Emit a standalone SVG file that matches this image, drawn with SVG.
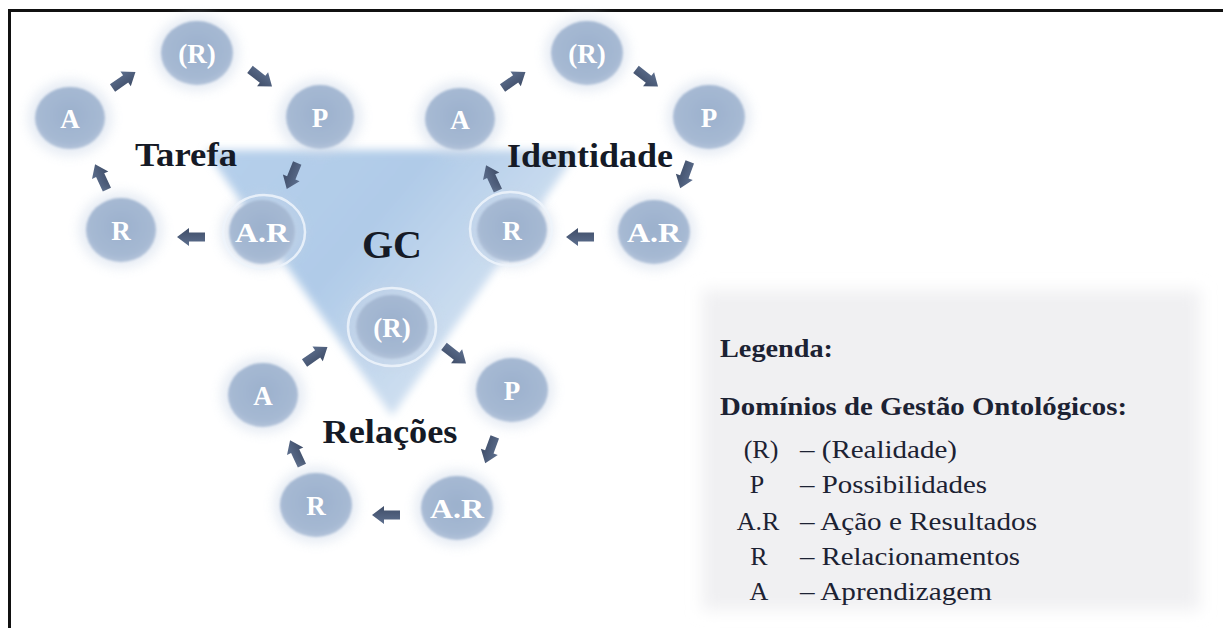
<svg xmlns="http://www.w3.org/2000/svg" xmlns:xlink="http://www.w3.org/1999/xlink" width="1223" height="628" viewBox="0 0 1223 628">
  <defs>
    <style>
      .node-fill { fill: url(#orb); filter: url(#soft); }
      .halo { fill: #c7d4e6; opacity: 0.45; filter: url(#haze); }
      .ring { fill: none; stroke: #eef4fb; stroke-width: 2.5; opacity: 0.85; }
      .node-label { font-family: "Liberation Serif", "DejaVu Serif", serif; font-weight: bold; font-size: 27px; fill: #ffffff; text-anchor: middle; }
      .domain { font-family: "Liberation Serif", "DejaVu Serif", serif; font-weight: bold; font-size: 33px; fill: #151a26; text-anchor: middle; }
      .core { font-family: "Liberation Serif", "DejaVu Serif", serif; font-weight: bold; font-size: 40px; fill: #151a26; text-anchor: middle; }
      .lg-head { font-family: "Liberation Serif", "DejaVu Serif", serif; font-weight: bold; font-size: 26px; fill: #1c2233; }
      .lg-sym { font-family: "Liberation Serif", "DejaVu Serif", serif; font-size: 26px; fill: #1c2233; text-anchor: middle; }
      .lg-txt { font-family: "Liberation Serif", "DejaVu Serif", serif; font-size: 26px; fill: #1c2233; }
      .arrow { fill: url(#arrowShade); }
    </style>
    <radialGradient id="orb" cx="0.5" cy="0.45" r="0.6">
      <stop offset="0" stop-color="#9cb1cd"/>
      <stop offset="0.75" stop-color="#a6b9d3"/>
      <stop offset="1" stop-color="#b9c8dd"/>
    </radialGradient>
    <linearGradient id="arrowShade" x1="0" y1="0" x2="0" y2="1">
      <stop offset="0" stop-color="#5d6f8e"/>
      <stop offset="1" stop-color="#3f4d68"/>
    </linearGradient>
    <linearGradient id="triShade" x1="0" y1="0" x2="1" y2="0.6">
      <stop offset="0" stop-color="#b6d0eb"/>
      <stop offset="0.45" stop-color="#b0cbe8"/>
      <stop offset="0.8" stop-color="#cddef0"/>
      <stop offset="1" stop-color="#f0f5fb"/>
    </linearGradient>
    <filter id="soft" x="-20%" y="-20%" width="140%" height="140%">
      <feGaussianBlur stdDeviation="1.2"/>
    </filter>
    <filter id="haze" x="-50%" y="-50%" width="200%" height="200%">
      <feGaussianBlur stdDeviation="6"/>
    </filter>
    <filter id="triBlur" x="-10%" y="-10%" width="120%" height="120%">
      <feGaussianBlur stdDeviation="4"/>
    </filter>
    <filter id="panelBlur" x="-10%" y="-10%" width="120%" height="120%">
      <feGaussianBlur stdDeviation="8"/>
    </filter>
    <!-- block arrow pointing right, centred on the origin -->
    <path id="arw" d="M-14,-4.5 L2,-4.5 L2,-9 L14,0 L2,9 L2,4.5 L-14,4.5 Z"/>
  </defs>

  <rect x="0" y="0" width="1223" height="628" fill="#ffffff"/>

  <!-- frame -->
  <g id="frame" stroke="#111111" stroke-width="3" fill="none">
    <line x1="8" y1="10.5" x2="1223" y2="10.5"/>
    <line x1="9.5" y1="9" x2="9.5" y2="628"/>
  </g>

  <!-- central GC triangle -->
  <g id="core">
    <polygon points="205,150 579,150 392,416" fill="url(#triShade)" filter="url(#triBlur)"/>
    <text class="core" x="392" y="258">GC</text>
  </g>

  <!-- legend panel -->
  <g id="legend">
    <rect x="702" y="290" width="498" height="320" fill="#f0f0f2" filter="url(#panelBlur)"/>
    <text class="lg-head" x="720" y="357" textLength="113" lengthAdjust="spacingAndGlyphs">Legenda:</text>
    <text class="lg-head" x="720" y="415" textLength="407" lengthAdjust="spacingAndGlyphs">Domínios de Gestão Ontológicos:</text>
    <text class="lg-sym" x="761" y="458">(R)</text>
    <text class="lg-txt" x="800" y="458" textLength="157" lengthAdjust="spacingAndGlyphs">– (Realidade)</text>
    <text class="lg-sym" x="757" y="493">P</text>
    <text class="lg-txt" x="800" y="493" textLength="187" lengthAdjust="spacingAndGlyphs">– Possibilidades</text>
    <text class="lg-sym" x="758" y="530">A.R</text>
    <text class="lg-txt" x="800" y="530" textLength="237" lengthAdjust="spacingAndGlyphs">– Ação e Resultados</text>
    <text class="lg-sym" x="759" y="565">R</text>
    <text class="lg-txt" x="800" y="565" textLength="220" lengthAdjust="spacingAndGlyphs">– Relacionamentos</text>
    <text class="lg-sym" x="759" y="600">A</text>
    <text class="lg-txt" x="800" y="600" textLength="192" lengthAdjust="spacingAndGlyphs">– Aprendizagem</text>
  </g>

  <!-- connectors -->
  <g id="connectors" class="arrow">
    <!-- Tarefa cycle -->
    <use xlink:href="#arw" transform="translate(124,80) rotate(-35)"/>
    <use xlink:href="#arw" transform="translate(261,78) rotate(38)"/>
    <use xlink:href="#arw" transform="translate(292,176) rotate(112)"/>
    <use xlink:href="#arw" transform="translate(191,237) rotate(180)"/>
    <use xlink:href="#arw" transform="translate(101,177) rotate(-115)"/>
    <!-- Identidade cycle -->
    <use xlink:href="#arw" transform="translate(514,80) rotate(-35)"/>
    <use xlink:href="#arw" transform="translate(647,78) rotate(38)"/>
    <use xlink:href="#arw" transform="translate(685,175) rotate(110)"/>
    <use xlink:href="#arw" transform="translate(580,237) rotate(180)"/>
    <use xlink:href="#arw" transform="translate(492,178) rotate(-115)"/>
    <!-- Relações cycle -->
    <use xlink:href="#arw" transform="translate(316,355) rotate(-35)"/>
    <use xlink:href="#arw" transform="translate(455,355) rotate(38)"/>
    <use xlink:href="#arw" transform="translate(490,450) rotate(110)"/>
    <use xlink:href="#arw" transform="translate(386,515) rotate(180)"/>
    <use xlink:href="#arw" transform="translate(296,453) rotate(-115)"/>
  </g>

  <!-- Tarefa domain -->
  <g id="tarefa">
    <text class="domain" x="186" y="166" textLength="102" lengthAdjust="spacingAndGlyphs">Tarefa</text>
    <g id="tarefa-r">
      <ellipse class="halo" cx="197" cy="53" rx="42" ry="38"/>
      <ellipse class="node-fill" cx="197" cy="53" rx="36" ry="32"/>
      <text class="node-label" x="197" y="63">(R)</text>
    </g>
    <g id="tarefa-p">
      <ellipse class="halo" cx="320" cy="117" rx="42" ry="38"/>
      <ellipse class="node-fill" cx="320" cy="117" rx="34" ry="32"/>
      <text class="node-label" x="320" y="127">P</text>
    </g>
    <g id="tarefa-ar">
      <ellipse class="halo" cx="262" cy="232" rx="42" ry="38"/>
      <ellipse class="node-fill" cx="262" cy="232" rx="33" ry="32"/>
      <ellipse class="ring" cx="264" cy="232" rx="41" ry="37"/>
      <text class="node-label" x="262" y="242" textLength="54" lengthAdjust="spacingAndGlyphs">A.R</text>
    </g>
    <g id="tarefa-rel">
      <ellipse class="halo" cx="121" cy="230" rx="42" ry="38"/>
      <ellipse class="node-fill" cx="121" cy="230" rx="35" ry="32"/>
      <text class="node-label" x="121" y="240">R</text>
    </g>
    <g id="tarefa-a">
      <ellipse class="halo" cx="70" cy="118" rx="42" ry="38"/>
      <ellipse class="node-fill" cx="70" cy="118" rx="35" ry="31"/>
      <text class="node-label" x="70" y="128">A</text>
    </g>
  </g>

  <!-- Identidade domain -->
  <g id="identidade">
    <text class="domain" x="590" y="167" textLength="166" lengthAdjust="spacingAndGlyphs">Identidade</text>
    <g id="identidade-r">
      <ellipse class="halo" cx="587" cy="53" rx="42" ry="38"/>
      <ellipse class="node-fill" cx="587" cy="53" rx="36" ry="32"/>
      <text class="node-label" x="587" y="63">(R)</text>
    </g>
    <g id="identidade-p">
      <ellipse class="halo" cx="709" cy="117" rx="42" ry="38"/>
      <ellipse class="node-fill" cx="709" cy="117" rx="36" ry="32"/>
      <text class="node-label" x="709" y="127">P</text>
    </g>
    <g id="identidade-ar">
      <ellipse class="halo" cx="654" cy="232" rx="42" ry="38"/>
      <ellipse class="node-fill" cx="654" cy="232" rx="36" ry="32"/>
      <text class="node-label" x="654" y="242" textLength="54" lengthAdjust="spacingAndGlyphs">A.R</text>
    </g>
    <g id="identidade-rel">
      <ellipse class="halo" cx="512" cy="230" rx="42" ry="38"/>
      <ellipse class="node-fill" cx="512" cy="230" rx="35" ry="32"/>
      <ellipse class="ring" cx="511" cy="229" rx="41" ry="37"/>
      <text class="node-label" x="512" y="240">R</text>
    </g>
    <g id="identidade-a">
      <ellipse class="halo" cx="460" cy="119" rx="42" ry="38"/>
      <ellipse class="node-fill" cx="460" cy="119" rx="35" ry="31"/>
      <text class="node-label" x="460" y="129">A</text>
    </g>
  </g>

  <!-- Relações domain -->
  <g id="relacoes">
    <text class="domain" x="390" y="443" textLength="135" lengthAdjust="spacingAndGlyphs">Relações</text>
    <g id="relacoes-r">
      <ellipse class="halo" cx="392" cy="327" rx="46" ry="42"/>
      <ellipse class="node-fill" cx="392" cy="327" rx="36" ry="32"/>
      <ellipse class="ring" cx="392" cy="327" rx="44" ry="39"/>
      <text class="node-label" x="392" y="337">(R)</text>
    </g>
    <g id="relacoes-p">
      <ellipse class="halo" cx="512" cy="390" rx="42" ry="38"/>
      <ellipse class="node-fill" cx="512" cy="390" rx="36" ry="32"/>
      <text class="node-label" x="512" y="400">P</text>
    </g>
    <g id="relacoes-ar">
      <ellipse class="halo" cx="457" cy="508" rx="42" ry="38"/>
      <ellipse class="node-fill" cx="457" cy="508" rx="36" ry="32"/>
      <text class="node-label" x="457" y="518" textLength="54" lengthAdjust="spacingAndGlyphs">A.R</text>
    </g>
    <g id="relacoes-rel">
      <ellipse class="halo" cx="316" cy="505" rx="42" ry="38"/>
      <ellipse class="node-fill" cx="316" cy="505" rx="36" ry="32"/>
      <text class="node-label" x="316" y="515">R</text>
    </g>
    <g id="relacoes-a">
      <ellipse class="halo" cx="263" cy="395" rx="42" ry="38"/>
      <ellipse class="node-fill" cx="263" cy="395" rx="35" ry="32"/>
      <text class="node-label" x="263" y="405">A</text>
    </g>
  </g>
</svg>
